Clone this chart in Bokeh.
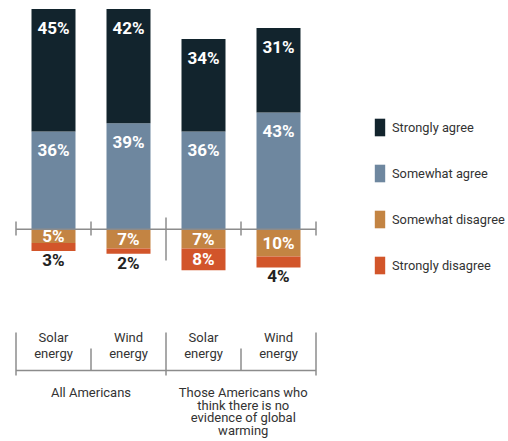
from bokeh.plotting import figure
from bokeh.models import ColumnDataSource, Range1d, Legend, LegendItem
from bokeh.core.properties import value
from bokeh.embed import file_html
from bokeh.resources import INLINE

# ---- data ----
bars = ["Solar energy (All)", "Wind energy (All)", "Solar energy (No GW)", "Wind energy (No GW)"]
cat_line1 = ["Solar", "Wind", "Solar", "Wind"]
cat_line2 = ["energy", "energy", "energy", "energy"]
group_labels = ["All Americans", "Those Americans who\nthink there is no\nevidence of global\nwarming"]
strongly_agree = [45, 42, 34, 31]
somewhat_agree = [36, 39, 36, 43]
somewhat_disagree = [5, 7, 7, 10]
strongly_disagree = [3, 2, 8, 4]
series_names = ["Strongly agree", "Somewhat agree", "Somewhat disagree", "Strongly disagree"]
colors = ["#12242d", "#6e879f", "#c38443", "#d2552a"]

FONT_NAME = "Roboto"
FONT = value(FONT_NAME)

W, H = 508, 441
K = 2.72          # px per percent
TOP = 81.2
BASE_IMG = 8 + TOP * K


def py(img_y):
    return (BASE_IMG - img_y) / K


xs = list(range(len(bars)))
SLOT = 75.0
x0 = -53 / SLOT
x1 = x0 + W / SLOT

p = figure(width=W, height=H, output_backend="svg", toolbar_location=None,
           x_range=Range1d(x0, x1), y_range=Range1d(py(H), py(0)),
           min_border=0, min_border_left=0, min_border_right=0,
           min_border_top=0, min_border_bottom=0)
p.axis.visible = False
p.grid.visible = False
p.outline_line_color = None
p.background_fill_color = "white"

src = ColumnDataSource(dict(
    x=xs,
    swa=somewhat_agree,
    sa=strongly_agree,
    swd=[-v for v in somewhat_disagree],
    sd=[-v for v in strongly_disagree],
))
BW = 44 / SLOT
pos = p.vbar_stack(["swa", "sa"], x="x", width=BW, source=src,
                   color=[colors[1], colors[0]], line_color=None)
neg = p.vbar_stack(["swd", "sd"], x="x", width=BW, source=src,
                   color=[colors[2], colors[3]], line_color=None)

# ---- value labels ----
off = 19 / K
lab_x, lab_y, lab_t, lab_c = [], [], [], []
for i in xs:
    a, b, c, d = strongly_agree[i], somewhat_agree[i], somewhat_disagree[i], strongly_disagree[i]
    lab_x += [i, i, i]
    lab_y += [a + b - off, b - off, -c / 2]
    lab_t += [f"{a}%", f"{b}%", f"{c}%"]
    lab_c += ["white", "white", "white"]
    lab_x.append(i)
    if d >= 5:
        lab_y.append(-(c + d / 2))
        lab_c.append("white")
    else:
        lab_y.append(-(c + d) - 9 / K)
        lab_c.append("#222222")
    lab_t.append(f"{d}%")
p.text(x=lab_x, y=lab_y, text=lab_t, text_color=lab_c, text_font=FONT,
       text_font_size="17px", text_font_style="bold",
       text_align="center", text_baseline="middle")

# ---- axis at zero ----
GRAY = "#8c8c8c"
edges = [i - 0.5 for i in xs] + [xs[-1] + 0.5]
p.segment(x0=[edges[0]], y0=[0], x1=[edges[-1]], y1=[0], line_color=GRAY, line_width=1.5)
tick_top = [py(217) if j == 2 else py(221) for j in range(len(edges))]
tick_bot = [py(260) if j == 2 else py(235) for j in range(len(edges))]
p.segment(x0=edges, y0=tick_top, x1=edges, y1=tick_bot, line_color=GRAY, line_width=1.5)

# ---- category bracket ----
b_top = [py(332) if j % 2 == 0 else py(348) for j in range(len(edges))]
b_bot = [py(375) if j % 2 == 0 else py(370) for j in range(len(edges))]
p.segment(x0=edges, y0=b_top, x1=edges, y1=b_bot, line_color=GRAY, line_width=1.5)
p.segment(x0=[edges[0]], y0=[py(370)], x1=[edges[-1]], y1=[py(370)], line_color=GRAY, line_width=1.5)

p.text(x=xs, y=[py(337)] * 4, text=cat_line1, text_font=FONT, text_font_size="13px",
       text_color="#333333", text_align="center", text_baseline="middle")
p.text(x=xs, y=[py(353)] * 4, text=cat_line2, text_font=FONT, text_font_size="13px",
       text_color="#333333", text_align="center", text_baseline="middle")

gx = [0.5, 2.53]
for g, lab in enumerate(group_labels):
    lines = lab.split("\n")
    p.text(x=[gx[g]] * len(lines), y=[py(392 + 12.5 * k) for k in range(len(lines))],
           text=lines, text_font=FONT, text_font_size="13px", text_color="#333333",
           text_align="center", text_baseline="middle")

# ---- legend ----
renderers = [pos[1], pos[0], neg[0], neg[1]]
legend = Legend(items=[LegendItem(label=n, renderers=[r]) for n, r in zip(series_names, renderers)],
                location=(373, H - 276), orientation="vertical",
                glyph_width=13, glyph_height=22, label_height=22, label_standoff=6,
                spacing=24, padding=0, margin=0, border_line_color=None,
                background_fill_alpha=0, label_text_font=FONT_NAME,
                label_text_font_size="12.8px", label_text_color="#333333")
p.add_layout(legend)

open("out.html", "w").write(file_html(p, INLINE))
